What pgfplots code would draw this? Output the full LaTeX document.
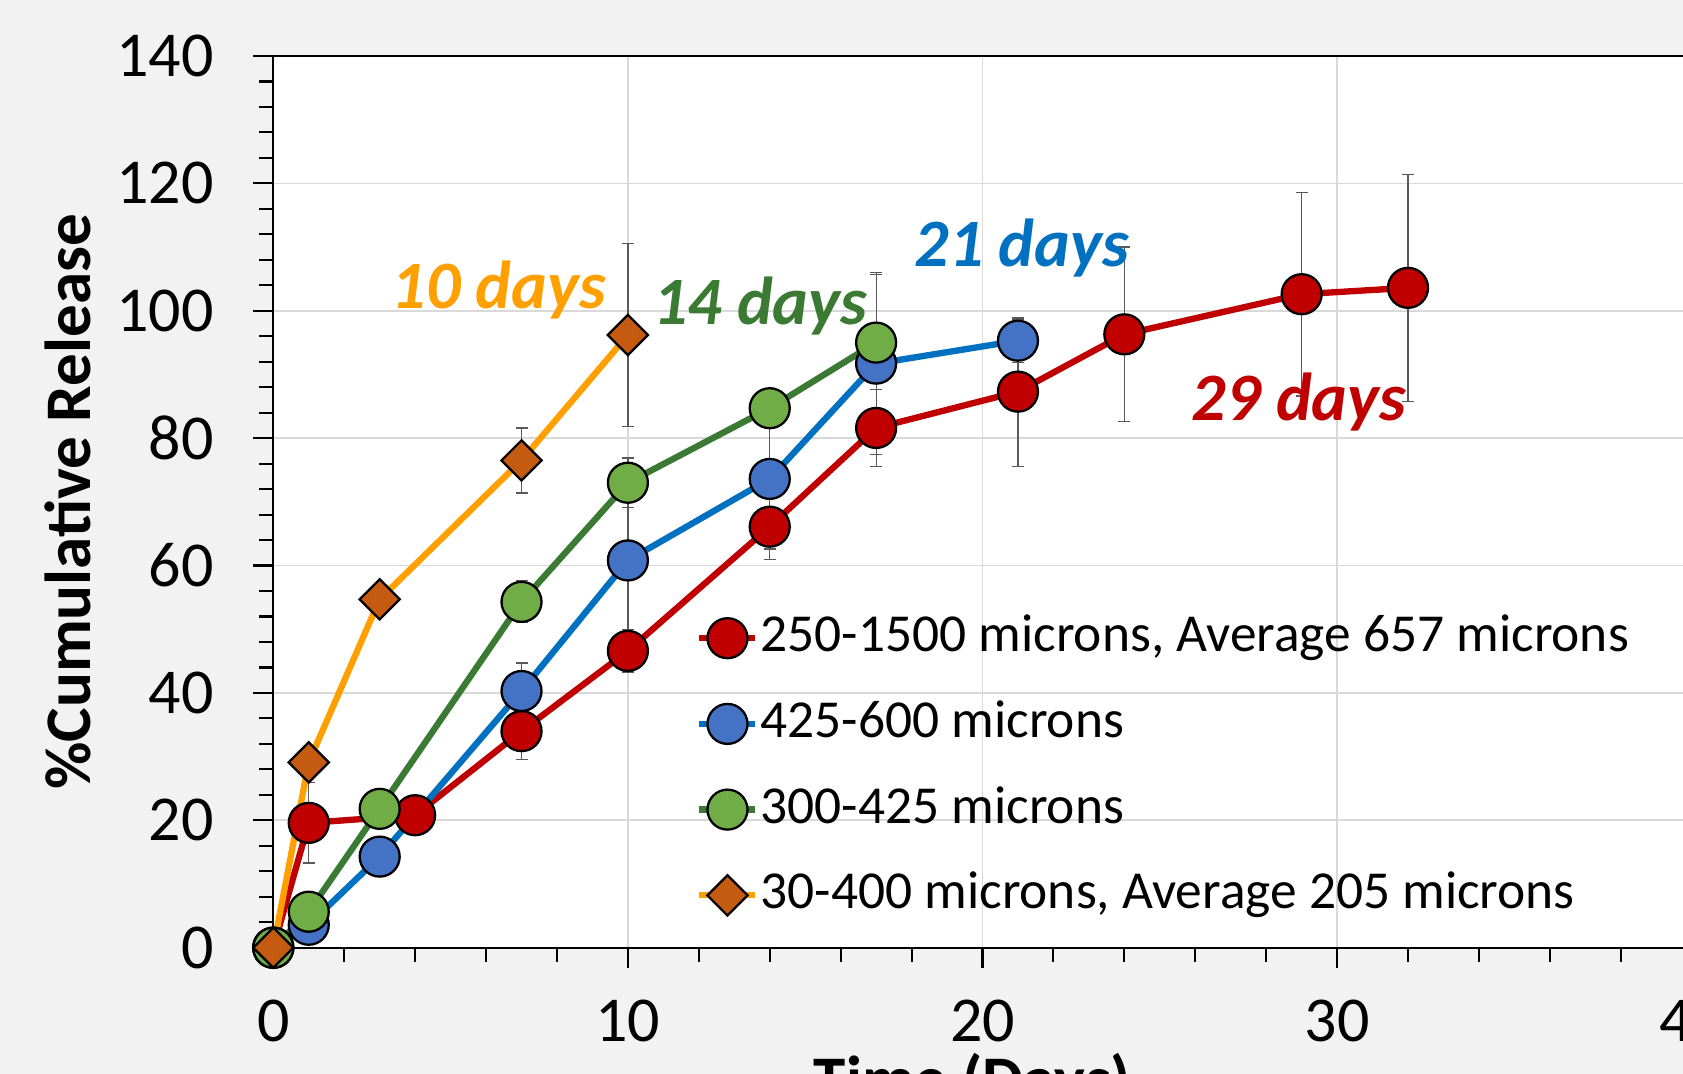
\documentclass[border=0pt]{standalone}
\usepackage{fontspec}
\setmainfont{Carlito}
\usepackage{pgfplots}
\pgfplotsset{compat=1.18}
\definecolor{bgc}{HTML}{F2F2F2}
\definecolor{gridc}{HTML}{D9D9D9}
\definecolor{redl}{HTML}{C00000}
\definecolor{bluel}{HTML}{0070C0}
\definecolor{bluem}{HTML}{4472C4}
\definecolor{greenl}{HTML}{3B7A33}
\definecolor{greenm}{HTML}{70AD47}
\definecolor{orangel}{HTML}{FFA000}
\definecolor{orangem}{HTML}{C55A11}
\definecolor{errc}{HTML}{595959}
\begin{document}
\begin{tikzpicture}
\fill[bgc] (-27.33mm,-12.63mm) rectangle (140.97mm,94.77mm);
\begin{axis}[
  at={(0,0)}, anchor=south west,
  scale only axis, width=141.84mm, height=89.17mm,
  xmin=0, xmax=40, ymin=0, ymax=140,
  xtick={0,10,20,30,40}, ytick={0,20,...,140},
  minor x tick num=4, minor y tick num=4,
  tick pos=left, tick align=outside,
  major tick length=2mm, minor tick length=1.4mm,
  every tick/.style={black, line width=0.6pt},
  axis line style={black, line width=0.6pt},
  grid=major, major grid style={gridc, line width=0.5pt},
  axis background/.style={fill=white},
  clip=false,
  /pgf/number format/assume math mode=true,
  ticklabel style={font=\fontsize{18.2pt}{21pt}\selectfont},
  yticklabel style={inner sep=0pt, anchor=east, xshift=-3.9mm},
  xticklabel style={inner sep=0pt, anchor=north, yshift=-3.2mm},
  xlabel={\bfseries Time (Days)},
  xlabel style={at={(axis description cs:0.493,-0.1727)}, anchor=base, inner sep=0pt, font=\fontsize{18.5pt}{22pt}\selectfont},
  ylabel={\bfseries \%Cumulative Release},
  ylabel style={at={(axis description cs:-0.129,0.5)}, anchor=base, inner sep=0pt, font=\fontsize{18.5pt}{22pt}\selectfont},
  legend style={at={(axis cs:11.91,52.86)}, anchor=north west, draw=none, fill=none, inner sep=0pt,
    font=\fontsize{15.2pt}{18pt}\selectfont, row sep=3.27mm, column sep=0.2mm,
    nodes={inner sep=0pt, text height=4mm, text depth=1.3mm}},
  legend cell align=left,
  legend image code/.code={\draw[mark repeat=2,mark phase=2] plot coordinates {(0mm,0mm) (2.8mm,0mm) (5.6mm,0mm)};},
]
\addplot[redl, line width=1.8pt, mark=*, mark size=2mm,
  mark options={solid, draw=black, fill=redl, line width=0.65pt},
  error bars/.cd, y dir=both, y explicit,
  error bar style={errc, line width=0.35pt},
  error mark options={errc, rotate=90, mark size=0.6mm, line width=0.35pt}]
coordinates {
(0,0) +- (0,0)
(1,19.6) +- (0,6.3)
(4,20.8) +- (0,0)
(7,34.0) +- (0,4.4)
(10,46.6) +- (0,3.3)
(14,66.1) +- (0,5.2)
(17,81.6) +- (0,6.0)
(21,87.3) +- (0,11.7)
(24,96.3) +- (0,13.7)
(29,102.6) +- (0,16.0)
(32,103.6) +- (0,17.8)
};
\addlegendentry{250-1500 microns, Average 657 microns}
\addplot[bluel, line width=1.8pt, mark=*, mark size=2mm,
  mark options={solid, draw=black, fill=bluem, line width=0.65pt},
  error bars/.cd, y dir=both, y explicit,
  error bar style={errc, line width=0.35pt},
  error mark options={errc, rotate=90, mark size=0.6mm, line width=0.35pt}]
coordinates {
(0,0) +- (0,0)
(1,3.6) +- (0,0)
(3,14.3) +- (0,0)
(7,40.3) +- (0,4.4)
(10,60.8) +- (0,11.3)
(14,73.6) +- (0,11.0)
(17,91.7) +- (0,14.3)
(21,95.3) +- (0,3.4)
};
\addlegendentry{425-600 microns}
\addplot[greenl, line width=1.8pt, mark=*, mark size=2mm,
  mark options={solid, draw=black, fill=greenm, line width=0.65pt},
  error bars/.cd, y dir=both, y explicit,
  error bar style={errc, line width=0.35pt},
  error mark options={errc, rotate=90, mark size=0.6mm, line width=0.35pt}]
coordinates {
(0,0) +- (0,0)
(1,5.65) +- (0,0)
(3,21.8) +- (0,0)
(7,54.3) +- (0,3.3)
(10,73.0) +- (0,3.9)
(14,84.7) +- (0,2.0)
(17,95.0) +- (0,10.7)
};
\addlegendentry{300-425 microns}
\addplot[orangel, line width=1.8pt, mark=square*, mark size=1.42mm,
  mark options={solid, rotate=45, draw=black, fill=orangem, line width=0.65pt},
  error bars/.cd, y dir=both, y explicit,
  error bar style={errc, line width=0.35pt},
  error mark options={errc, rotate=90, mark size=0.6mm, line width=0.35pt}]
coordinates {
(0,0) +- (0,0)
(1,29.1) +- (0,0)
(3,54.7) +- (0,0)
(7,76.5) +- (0,5.1)
(10,96.2) +- (0,14.4)
};
\addlegendentry{30-400 microns, Average 205 microns}
\node[anchor=base, text=orangel, font=\fontsize{19.3pt}{23pt}\selectfont\bfseries\itshape] at (axis cs:6.36,100.3) {10 days};
\node[anchor=base, text=greenl, font=\fontsize{19.3pt}{23pt}\selectfont\bfseries\itshape] at (axis cs:13.73,97.9) {14 days};
\node[anchor=base, text=bluel, font=\fontsize{19.3pt}{23pt}\selectfont\bfseries\itshape] at (axis cs:21.11,107.0) {21 days};
\node[anchor=base, text=redl, font=\fontsize{19.3pt}{23pt}\selectfont\bfseries\itshape] at (axis cs:28.93,82.7) {29 days};
\end{axis}
\pgfresetboundingbox
\path[use as bounding box] (-27.33mm,-12.63mm) rectangle (140.97mm,94.77mm);
\end{tikzpicture}
\end{document}
